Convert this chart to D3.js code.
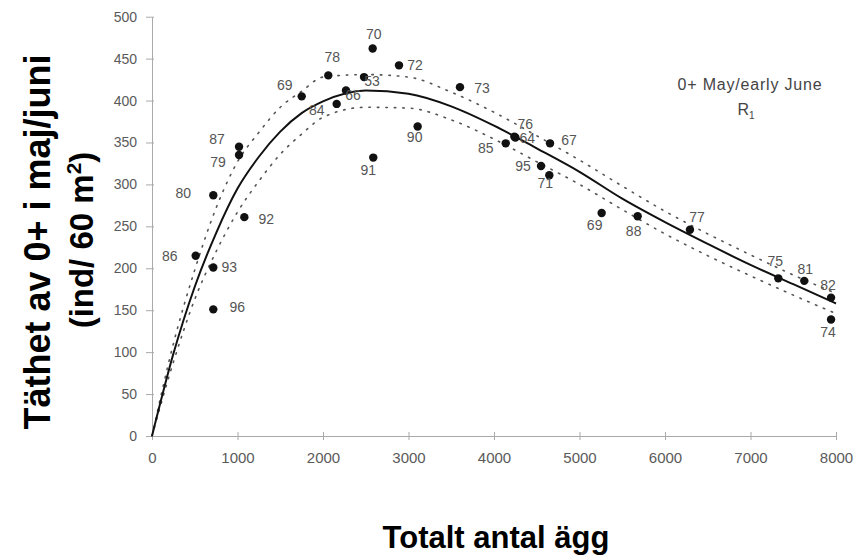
<!DOCTYPE html>
<html>
<head>
<meta charset="utf-8">
<script src="https://cdn.jsdelivr.net/npm/d3@7"></script>
<style>
body { margin: 0; background: #fff; }
text { font-family: Arial, "Liberation Sans", sans-serif; }
</style>
</head>
<body>
<script>
// observed year classes: eggs (x) and density of 0+ (y)
var years = ["70","78","53","69","66","84","87","79","91","80","92","86","93","96","72",
             "73","90","76","64","85","67","95","71","69","88","77","75","81","82","74"];
var eggs = [2581,2062,2480,1751,2269,2160,1018,1018,2588,717,1080,511,717,717,2889,
            3602,3107,4238,4250,4137,4655,4550,4647,5259,5680,6292,7325,7629,7942,7942];
var density = [462,430,428,405,412,396,345,335,332,287,261,215,201,151,442,
               416,369,357,356,349,349,322,311,266,262,246,188,185,165,139];

// fitted curve and its bounds
var curveX = [0,250,500,750,1000,1250,1500,1750,2000,2500,3000,3500,4000,4500,5000,5500,6000,6500,7000,7500,8000];
var fitY   = [0,98,178,242,295,333,363,385,399,412,408,393,370,343,315,283,255,229,204,181,158];
var upperY = [0,110,198,272,327,362,392,411,428,431,428,410,386,358,329,298,268,241,216,192,170];
var lowerY = [0,88,163,220,267,304,336,360,380,392,391,377,354,327,300,270,241,215,191,168,146];

var xTicks = [0,1000,2000,3000,4000,5000,6000,7000,8000];
var yTicks = [0,50,100,150,200,250,300,350,400,450,500];

// label placement around each dot (layout only)
var labelOffsets = [[1,-15],[4,-18],[8,4],[-17,-11],[7,4],[-20,6],[-22,-8],[-21,7],[-5,12],[-30,-2],
                    [22,2],[-26,0],[16,0],[24,-2],[16,0],[22,1],[-3,10],[11,-13],[12,1],[-20,5],
                    [19,-3],[-18,0],[-4,8],[-7,12],[-4,15],[7,-13],[-3,-17],[1,-12],[-3,-13],[-3,13]];

var svg = d3.select("body").append("svg")
.attr("width", 866)
.attr("height", 560);

svg.append("rect").attr("width", 866).attr("height", 560).attr("fill", "#fff");

var x = d3.scaleLinear().domain([0, 8000]).range([152, 836]);
var y = d3.scaleLinear().domain([0, 500]).range([436, 16.7]);

// axes
var xAxis = svg.append("g")
.attr("transform", "translate(0,436)")
.call(d3.axisBottom(x).tickValues(xTicks).tickFormat(d3.format("d")).tickSize(4).tickSizeOuter(0).tickPadding(12));

var yAxis = svg.append("g")
.attr("transform", "translate(152,0)")
.call(d3.axisLeft(y).tickValues(yTicks).tickSize(6).tickSizeOuter(0).tickPadding(9));

xAxis.select(".domain").attr("stroke", "#aaa");
yAxis.select(".domain").attr("stroke", "#aaa");
xAxis.selectAll(".tick line").attr("y1", -4).attr("stroke", "#aaa");
yAxis.selectAll(".tick line").attr("x1", -6).attr("x2", 2).attr("stroke", "#aaa");
xAxis.selectAll(".tick text").attr("font-size", 15).attr("fill", "#5a5a5a").style("font-family", "Arial");
yAxis.selectAll(".tick text").attr("font-size", 14).attr("fill", "#5a5a5a").style("font-family", "Arial");

// curves
var line = d3.line()
.x(function (d) { return x(d[0]); })
.y(function (d) { return y(d[1]); })
.curve(d3.curveMonotoneX);

function pairs(ys) {
  return curveX.map(function (v, i) { return [v, ys[i]]; });
}

svg.append("path")
.attr("d", line(pairs(upperY)))
.attr("fill", "none")
.attr("stroke", "#555")
.attr("stroke-width", 1.6)
.attr("stroke-linecap", "round")
.attr("stroke-dasharray", "1.5,7");

svg.append("path")
.attr("d", line(pairs(lowerY)))
.attr("fill", "none")
.attr("stroke", "#555")
.attr("stroke-width", 1.6)
.attr("stroke-linecap", "round")
.attr("stroke-dasharray", "1.5,7");

svg.append("path")
.attr("d", line(pairs(fitY)))
.attr("fill", "none")
.attr("stroke", "#111")
.attr("stroke-width", 2);

// points
svg.selectAll("circle.pt")
.data(years)
.enter()
.append("circle")
.attr("class", "pt")
.attr("cx", function (d, i) { return x(eggs[i]); })
.attr("cy", function (d, i) { return y(density[i]); })
.attr("r", 4.2)
.attr("fill", "#111");

svg.selectAll("text.lab")
.data(years)
.enter()
.append("text")
.attr("class", "lab")
.attr("x", function (d, i) { return x(eggs[i]) + labelOffsets[i][0]; })
.attr("y", function (d, i) { return y(density[i]) + labelOffsets[i][1]; })
.attr("dy", "0.36em")
.attr("text-anchor", "middle")
.attr("font-size", 14)
.attr("fill", "#555")
.text(function (d) { return d; });

// annotation
svg.append("text")
.attr("x", 750).attr("y", 90)
.attr("text-anchor", "middle")
.attr("font-size", 16)
.attr("letter-spacing", 0.8)
.attr("fill", "#444")
.text("0+ May/early June");

var r1 = svg.append("text")
.attr("x", 746).attr("y", 115)
.attr("text-anchor", "middle")
.attr("font-size", 16)
.attr("fill", "#444")
.text("R");
r1.append("tspan").attr("font-size", 10).attr("dy", 4).text("1");

// axis titles
svg.append("text")
.attr("x", 496).attr("y", 548)
.attr("text-anchor", "middle")
.attr("font-size", 31)
.attr("font-weight", "bold")
.attr("fill", "#000")
.text("Totalt antal ägg");

svg.append("text")
.attr("transform", "translate(50,242) rotate(-90)")
.attr("text-anchor", "middle")
.attr("font-size", 36)
.attr("font-weight", "bold")
.attr("fill", "#000")
.text("Täthet av 0+ i maj/juni");

var l2 = svg.append("text")
.attr("transform", "translate(93,240) rotate(-90)")
.attr("text-anchor", "middle")
.attr("font-size", 33)
.attr("font-weight", "bold")
.attr("fill", "#000")
.text("(ind/ 60 m");
l2.append("tspan").attr("font-size", 21).attr("dy", -12).text("2");
l2.append("tspan").attr("dy", 12).text(")");
</script>
</body>
</html>
